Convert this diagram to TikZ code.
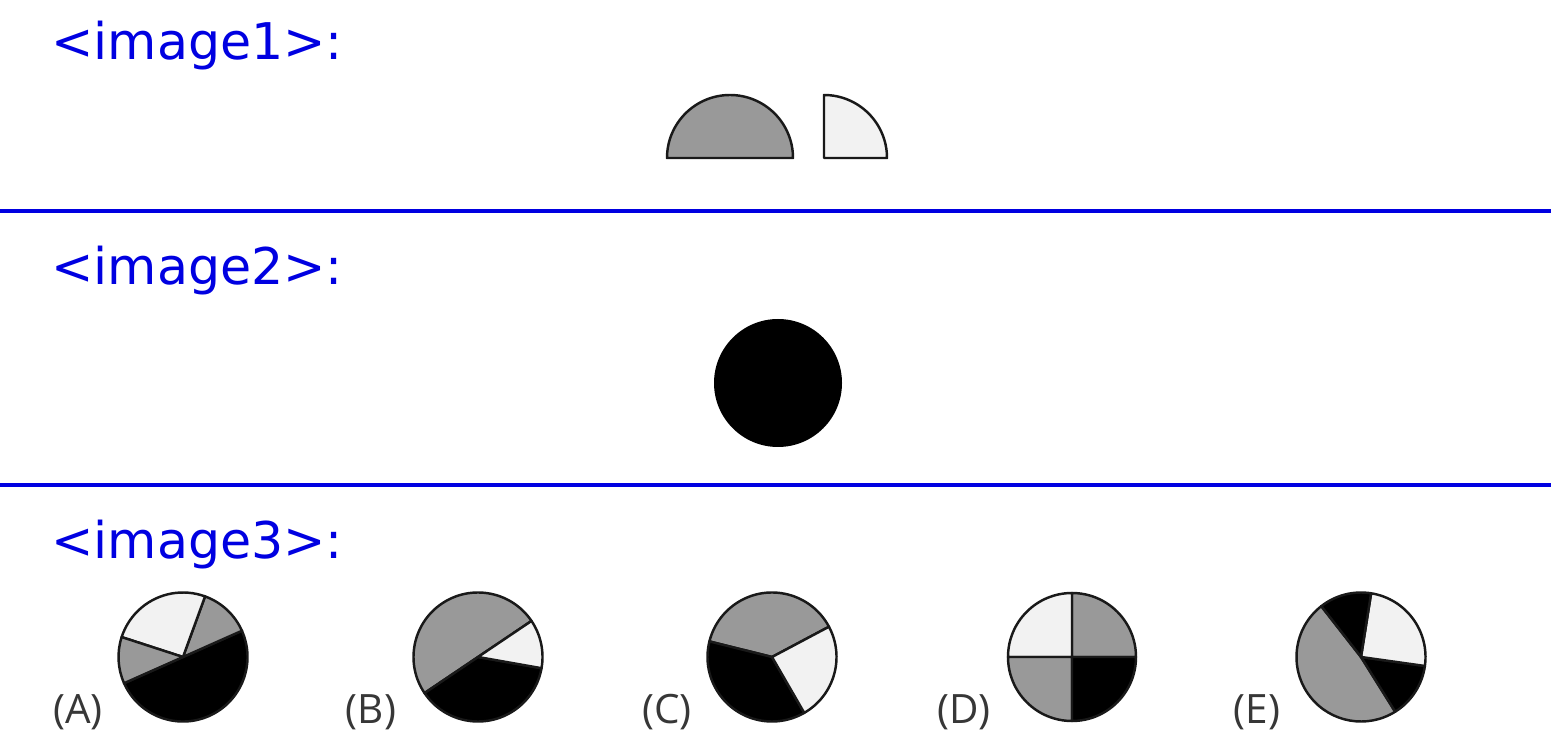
\documentclass[tikz,border=0pt]{standalone}
\usepackage{fontspec}
\setmainfont{DejaVu Sans}
\newfontfamily\labelfont{Open Sans}

\definecolor{hdrblue}{RGB}{0,0,225}
\definecolor{midgray}{RGB}{153,153,153}
\definecolor{palegray}{RGB}{242,242,242}
\definecolor{lblgray}{RGB}{55,55,55}

\tikzset{
  header/.style={anchor=base west, inner sep=0pt, text=hdrblue, font=\fontsize{28.8}{30}\selectfont},
  choice/.style={anchor=base, inner sep=0pt, text=lblgray, font=\labelfont\fontsize{23}{25}\selectfont},
  rule/.style={hdrblue, line width=2.3pt},
  piece/.style={draw=black!90, line width=1.4pt, line join=round}
}

\begin{document}
\begin{tikzpicture}[x=0.02cm,y=0.02cm]
  \useasboundingbox (0,0) rectangle (1551,754);

  % section titles and rules
  \node[header] (hdr1) at (51,694) {<image1>:};
  \node[header] (hdr2) at (51,469) {<image2>:};
  \node[header] (hdr3) at (51,195) {<image3>:};
  \draw[rule] (0,543) -- (1551,543);
  \draw[rule] (0,269) -- (1551,269);

  % image1: half disc and quarter disc
  \filldraw[piece, fill=midgray] (667,596) arc[start angle=180, end angle=0, radius=63] -- cycle;
  \filldraw[piece, fill=palegray] (824,596) -- (887,596) arc[start angle=0, end angle=90, radius=63] -- cycle;

  % image2: black disc
  \fill[black] (778,371) circle[radius=64];

  % image3: the five options
  \coordinate (pA) at (183,97);
  \coordinate (pB) at (478,97);
  \coordinate (pC) at (772,97);
  \coordinate (pD) at (1072,97);
  \coordinate (pE) at (1361,97);

  % (A)
  \filldraw[piece, fill=black]    (pA) -- ++(204:64.5) arc[start angle=204, end angle=384, radius=64.5] -- cycle;
  \filldraw[piece, fill=midgray]  (pA) -- ++(24:64.5) arc[start angle=24, end angle=70, radius=64.5] -- cycle;
  \filldraw[piece, fill=palegray] (pA) -- ++(70:64.5) arc[start angle=70, end angle=162, radius=64.5] -- cycle;
  \filldraw[piece, fill=midgray]  (pA) -- ++(162:64.5) arc[start angle=162, end angle=204, radius=64.5] -- cycle;

  % (B)
  \filldraw[piece, fill=midgray]  (pB) -- ++(34:64.5) arc[start angle=34, end angle=214, radius=64.5] -- cycle;
  \filldraw[piece, fill=black]    (pB) -- ++(214:64.5) arc[start angle=214, end angle=350, radius=64.5] -- cycle;
  \filldraw[piece, fill=palegray] (pB) -- ++(-10:64.5) arc[start angle=-10, end angle=34, radius=64.5] -- cycle;

  % (C)
  \filldraw[piece, fill=midgray]  (pC) -- ++(28:64.5) arc[start angle=28, end angle=166, radius=64.5] -- cycle;
  \filldraw[piece, fill=black]    (pC) -- ++(166:64.5) arc[start angle=166, end angle=300, radius=64.5] -- cycle;
  \filldraw[piece, fill=palegray] (pC) -- ++(-60:64.5) arc[start angle=-60, end angle=28, radius=64.5] -- cycle;

  % (D)
  \filldraw[piece, fill=midgray]  (pD) -- ++(0:64) arc[start angle=0, end angle=90, radius=64] -- cycle;
  \filldraw[piece, fill=palegray] (pD) -- ++(90:64) arc[start angle=90, end angle=180, radius=64] -- cycle;
  \filldraw[piece, fill=midgray]  (pD) -- ++(180:64) arc[start angle=180, end angle=270, radius=64] -- cycle;
  \filldraw[piece, fill=black]    (pD) -- ++(270:64) arc[start angle=270, end angle=360, radius=64] -- cycle;

  % (E)
  \filldraw[piece, fill=midgray]  (pE) -- ++(128:64.5) arc[start angle=128, end angle=302, radius=64.5] -- cycle;
  \filldraw[piece, fill=black]    (pE) -- ++(302:64.5) arc[start angle=302, end angle=352, radius=64.5] -- cycle;
  \filldraw[piece, fill=palegray] (pE) -- ++(-8:64.5) arc[start angle=-8, end angle=81, radius=64.5] -- cycle;
  \filldraw[piece, fill=black]    (pE) -- ++(81:64.5) arc[start angle=81, end angle=128, radius=64.5] -- cycle;

  % option letters
  \node[choice] (optA) at (78,31) {(A)};
  \node[choice] (optB) at (371,31) {(B)};
  \node[choice] (optC) at (667,31) {(C)};
  \node[choice] (optD) at (964,31) {(D)};
  \node[choice] (optE) at (1257,31) {(E)};
\end{tikzpicture}
\end{document}
